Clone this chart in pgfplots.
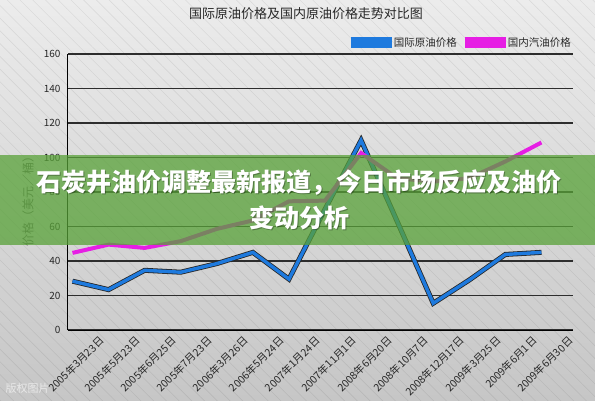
\documentclass[border=0pt]{standalone}
\usepackage{fontspec}
\setmainfont{Noto Sans CJK SC}
\usepackage{pgfplots}
\pgfplotsset{compat=1.18}
\usetikzlibrary{patterns.meta}
\definecolor{bgtop}{RGB}{236,236,236}
\definecolor{bgbot}{RGB}{198,198,198}
\definecolor{oilblue}{RGB}{30,122,222}
\definecolor{gasmag}{RGB}{230,30,228}
\definecolor{bannergreen}{RGB}{88,162,56}
\definecolor{gridc}{RGB}{45,45,45}
\definecolor{txtc}{RGB}{40,40,40}
\begin{document}
\begin{tikzpicture}
\shade[top color=bgtop, bottom color=bgbot] (0pt,0pt) rectangle (595pt,400pt);
\fill[pattern={Lines[angle=-45,distance=9pt,line width=0.6pt]}, pattern color=black, opacity=0.07] (0pt,0pt) rectangle (595pt,400pt);
\node[anchor=west, font=\fontsize{11}{12}\selectfont, text=white, opacity=0.6] at (2pt,12pt) {版权图片};
\begin{axis}[
  at={(68pt,70pt)}, anchor=south west, scale only axis,
  width=505pt, height=276pt,
  xmin=-0.125, xmax=13.875, ymin=0, ymax=160,
  ytick={0,20,...,160},
  ytick style={draw=none},
  ymajorgrids, grid style={gridc, line width=1.1pt},
  axis x line*=bottom, axis y line*=left,
  axis line style={black, line width=1pt},
  tick align=inside,
  xtick={0.58,1.58,2.58,3.58,4.58,5.58,6.58,7.58,8.58,9.58,10.58,11.58,12.58,13.58},
  xticklabels={2005年3月23日,2005年5月23日,2005年6月25日,2005年7月23日,2006年3月26日,2006年5月24日,2007年1月24日,2007年11月1日,2008年6月20日,2008年10月7日,2008年12月17日,2009年3月25日,2009年6月1日,2009年6月30日},
  xtick style={draw=none},
  xticklabel style={rotate=45, anchor=north east, inner sep=0pt, yshift=-7pt, font=\fontsize{10.5}{11}\selectfont, text=txtc},
  extra x ticks={-0.125,0.875,1.875,2.875,3.875,4.875,5.875,6.875,7.875,8.875,9.875,10.875,11.875,12.875,13.875},
  extra x tick labels={},
  extra x tick style={major tick length=8pt, tick style={draw=black, line width=1pt}, grid=none},
  /pgf/number format/assume math mode=true,
  yticklabel style={font=\fontsize{10}{11}\selectfont, text=txtc, xshift=-4pt},
  legend style={at={(1,1)}, anchor=south east, yshift=4pt, draw=none, fill=none,
    font=\fontsize{10.5}{11}\selectfont, text=txtc, inner sep=0pt,
    /tikz/every even column/.style={column sep=6pt}},
  legend columns=2,
  legend cell align=left,
]
\addplot[black!85, line width=5pt, line join=miter, forget plot] coordinates {
(0,28.3) (1,23.4) (2,34.6) (3,33.5) (4,38.5) (5,45) (6,29.5) (7,70) (8,110) (9,63) (10,15.5) (11,29) (12,43.8) (13,45)};
\addplot[oilblue, line width=3.4pt, line join=miter,
  legend image code/.code={\fill[oilblue] (0pt,-3.5pt) rectangle (37pt,3.5pt);}] coordinates {
(0,28.3) (1,23.4) (2,34.6) (3,33.5) (4,38.5) (5,45) (6,29.5) (7,70) (8,110) (9,63) (10,15.5) (11,29) (12,43.8) (13,45)};
\addlegendentry{国际原油价格}
\addplot[gasmag, line width=4pt, line join=miter,
  legend image code/.code={\fill[gasmag] (0pt,-3.5pt) rectangle (37pt,3.5pt);}] coordinates {
(0,44.7) (1,49.5) (2,47.6) (3,51.5) (4,58.6) (5,63.5) (6,74.6) (7,75) (8,102.6) (9,88) (10,86) (11,88) (12,97.7) (13,108.7)};
\addlegendentry{国内汽油价格}
\end{axis}
\node[font=\fontsize{13}{14}\selectfont, text=txtc] at (306pt,386pt) {国际原油价格及国内原油价格走势对比图};
\node[rotate=90, font=\fontsize{12}{13}\selectfont, text=black!60] at (28pt,202pt) {价格（美元／桶）};
\fill[bannergreen, opacity=0.75] (0pt,155pt) rectangle (595pt,245pt);
\node[font=\fontsize{25}{27}\selectfont\bfseries, text=black, opacity=0.3] at (300pt,216pt) {石炭井油价调整最新报道，今日市场反应及油价};
\node[font=\fontsize{25}{27}\selectfont\bfseries, text=black, opacity=0.3] at (300pt,181pt) {变动分析};
\node[font=\fontsize{25}{27}\selectfont\bfseries, text=white] at (299pt,217pt) {石炭井油价调整最新报道，今日市场反应及油价};
\node[font=\fontsize{25}{27}\selectfont\bfseries, text=white] at (299pt,182pt) {变动分析};
\pgfresetboundingbox
\useasboundingbox (0pt,0pt) rectangle (595pt,400pt);
\end{tikzpicture}
\end{document}
